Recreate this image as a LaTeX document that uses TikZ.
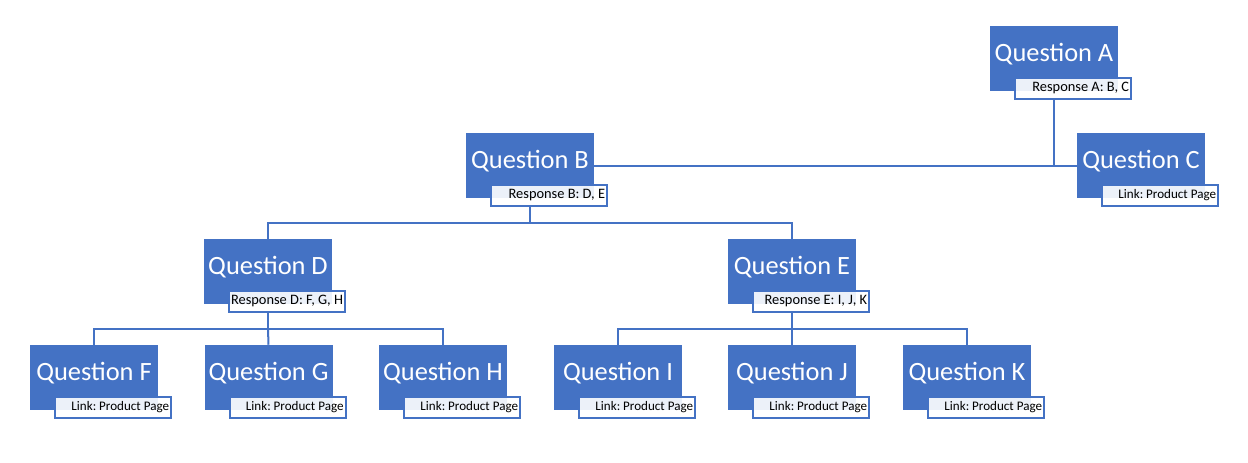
\documentclass[tikz,border=0pt]{standalone}
\usepackage{fontspec}
\setmainfont{Carlito}
\frenchspacing
\definecolor{accent}{HTML}{4472C4}
\begin{document}
\begin{tikzpicture}[x=0.75pt,y=-0.75pt,
  qbox/.style={rectangle,fill=accent,draw=none,minimum width=96pt,minimum height=48.75pt,inner sep=0pt},
  qtext/.style={text=white,font=\fontsize{19.8}{22}\selectfont,inner sep=0pt},
  lbox/.style={rectangle,draw=accent,line width=1.5pt,fill=white,fill opacity=0.9,draw opacity=1,
    minimum width=87pt,minimum height=15.75pt,inner sep=0pt},
  ltext/.style={inner sep=0pt,anchor=east,text=black},
  resp/.style={ltext,font=\fontsize{10.8}{13}\selectfont},
  link/.style={ltext,font=\fontsize{9.8}{12}\selectfont},
  conn/.style={draw=accent,line width=1.5pt}]
\useasboundingbox (0,0) rectangle (1248,462);
\newcommand{\qitem}[6]{%
  \node[qbox] (q#1) at (#2,#3+32.5) {};
  \node[qtext] (t#1) at ([yshift=3.5pt]q#1.center) {#4};
  \node[lbox] (l#1) at (#2+19,#3+62.5) {};
  \node[#6] (r#1) at ([xshift=-2pt,yshift=0.3pt]l#1.east) {#5};}
% nodes
\qitem{A}{1054}{26}{Question A}{Response A: B, C}{resp}
\qitem{B}{530}{133}{Question B}{Response B: D, E}{resp}
\qitem{C}{1141}{133}{Question C}{Link: Product Page}{link}
\qitem{D}{268}{239}{Question D}{Response D: F, G, H}{resp}
\qitem{E}{792}{239}{Question E}{Response E: I, J, K}{resp}
\qitem{F}{94}{345}{Question F}{Link: Product Page}{link}
\qitem{G}{268.5}{345}{Question G}{Link: Product Page}{link}
\qitem{H}{443}{345}{Question H}{Link: Product Page}{link}
\qitem{I}{618}{345}{Question I}{Link: Product Page}{link}
\qitem{J}{792}{345}{Question J}{Link: Product Page}{link}
\qitem{K}{967}{345}{Question K}{Link: Product Page}{link}
% A level
\draw[conn] (qA |- lA.south) -- (qA |- qC.west);
\draw[conn] (qB.east) -- (qC.west);
% B level
\coordinate (bB) at ([yshift=-12pt]qB |- lB.south);
\draw[conn] (qB |- lB.south) -- (bB);
\draw[conn] (qD.north) |- (bB) -| (qE.north);
% D level
\coordinate (bD) at ([yshift=-12pt]qD |- lD.south);
\draw[conn] (qD |- lD.south) -- (bD);
\draw[conn] (qF.north) |- (bD) -| (qH.north);
\draw[conn] (bD) -- (qG.north);
% E level
\coordinate (bE) at ([yshift=-12pt]qE |- lE.south);
\draw[conn] (qE |- lE.south) -- (bE);
\draw[conn] (qI.north) |- (bE) -| (qK.north);
\draw[conn] (bE) -- (qJ.north);
\end{tikzpicture}
\end{document}
